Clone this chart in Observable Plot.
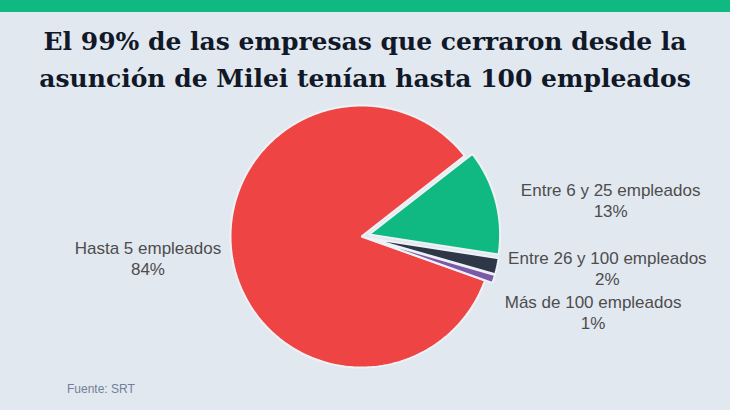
<!DOCTYPE html>
<html><head><meta charset="utf-8">
<script src="https://cdn.jsdelivr.net/npm/d3@7"></script>
<script src="https://cdn.jsdelivr.net/npm/@observablehq/plot@0.6"></script>
<style>
html,body{margin:0;padding:0;background:#e2e8f0;}
#wrap{position:relative;width:730px;height:410px;overflow:hidden;background:#e2e8f0;}
#bar{position:absolute;left:0;top:0;width:730px;height:12px;background:#10b981;}
#title{position:absolute;left:0;top:23px;width:730px;text-align:center;font-family:"DejaVu Serif",serif;font-weight:bold;font-size:25px;line-height:37px;color:#111827;white-space:nowrap;}
#chart{position:absolute;left:0;top:100px;}
#caption{position:absolute;left:67px;top:383px;font-family:"Liberation Sans",Arial,sans-serif;font-size:12px;line-height:12px;color:#718096;}
</style></head>
<body>
<div id="wrap">
  <div id="bar"></div>
  <div id="title">El 99% de las empresas que cerraron desde la<br>asunción de Milei tenían hasta 100 empleados</div>
  <div id="chart"></div>
  <div id="caption">Fuente: SRT</div>
</div>
<script>
// ---- data ----
const categories = ["Hasta 5 empleados", "Entre 6 y 25 empleados", "Entre 26 y 100 empleados", "Más de 100 empleados"];
const values = [84, 13, 2, 1];
const colors = ["#ef4444", "#10b981", "#2d3748", "#7b59a8"];
const pulls = [0, 0.06, 0.06, 0.06];

// ---- layout ----
const W = 730, H = 290;
const cx = 361, cy = 136, R = 131;
const rotation = 109.6; // degrees clockwise from north where first slice starts
const fontSize = 17, lineH = 21, boxH = 44;
const upperGap = 14;    // extra horizontal clearance for labels in the upper half
const labelFont = "Liberation Sans";

const total = d3.sum(values);
const ctx = document.createElement("canvas").getContext("2d");
ctx.font = `${fontSize}px '${labelFont}'`;

let a = rotation;
const slices = categories.map((c, i) => {
  const span = values[i] / total * 360;
  const a0 = a, a1 = a + span; a = a1;
  const mid = (a0 + a1) / 2 * Math.PI / 180;
  const p = pulls[i] * R;
  const ox = cx + p * Math.sin(mid), oy = cy - p * Math.cos(mid);
  const pts = [{x: ox, y: oy}];
  const n = Math.max(2, Math.ceil(span));
  for (let k = 0; k <= n; k++) {
    const t = (a0 + span * k / n) * Math.PI / 180;
    pts.push({x: ox + R * Math.sin(t), y: oy - R * Math.cos(t)});
  }
  const pct = Math.round(values[i] / total * 100) + "%";
  const w = Math.max(ctx.measureText(c).width, ctx.measureText(pct).width);
  const px = R * Math.sin(mid), py = -R * Math.cos(mid);
  let dx = w / 2, dy = boxH / 2;
  if (px < 0) dx = -dx;
  if (py < 0) dy = -dy;
  let tx = dx + Math.abs(dy) * (dx > 0 ? 1 : -1) / 2;
  if (py < 0) tx += (dx > 0 ? 1 : -1) * upperGap;
  const ty = dy / (1 + px * px / (py * py));
  return {cat: c, color: colors[i], pts, text: c + "\n" + pct,
          lx: ox + px + tx, ly: oy + py + ty, side: px >= 0 ? 1 : -1, mid};
});

// simple vertical scooting on each side
for (const side of [1, -1]) {
  const grp = slices.filter(s => s.side === side).sort((p, q) => p.ly - q.ly);
  for (let k = 1; k < grp.length; k++) {
    if (grp[k].ly < grp[k - 1].ly + boxH) grp[k].ly = grp[k - 1].ly + boxH;
  }
}

const marks = slices.map(s => Plot.line(s.pts, {
  x: "x", y: "y", curve: "linear-closed",
  fill: s.color, stroke: "#eef2f7", strokeWidth: 2, strokeLinejoin: "miter"
}));
marks.push(Plot.text(slices, {
  x: "lx", y: "ly", text: "text", textAnchor: "middle", lineAnchor: "middle",
  lineHeight: lineH / fontSize, fontSize, fill: "#4d4d4d", fontFamily: labelFont
}));

const chart = Plot.plot({
  width: W, height: H, margin: 0,
  x: {domain: [0, W], range: [0, W], axis: null},
  y: {domain: [0, H], range: [0, H], axis: null},
  style: {background: "transparent", overflow: "visible"},
  marks
});
document.getElementById("chart").appendChild(chart);
</script>
</body></html>
